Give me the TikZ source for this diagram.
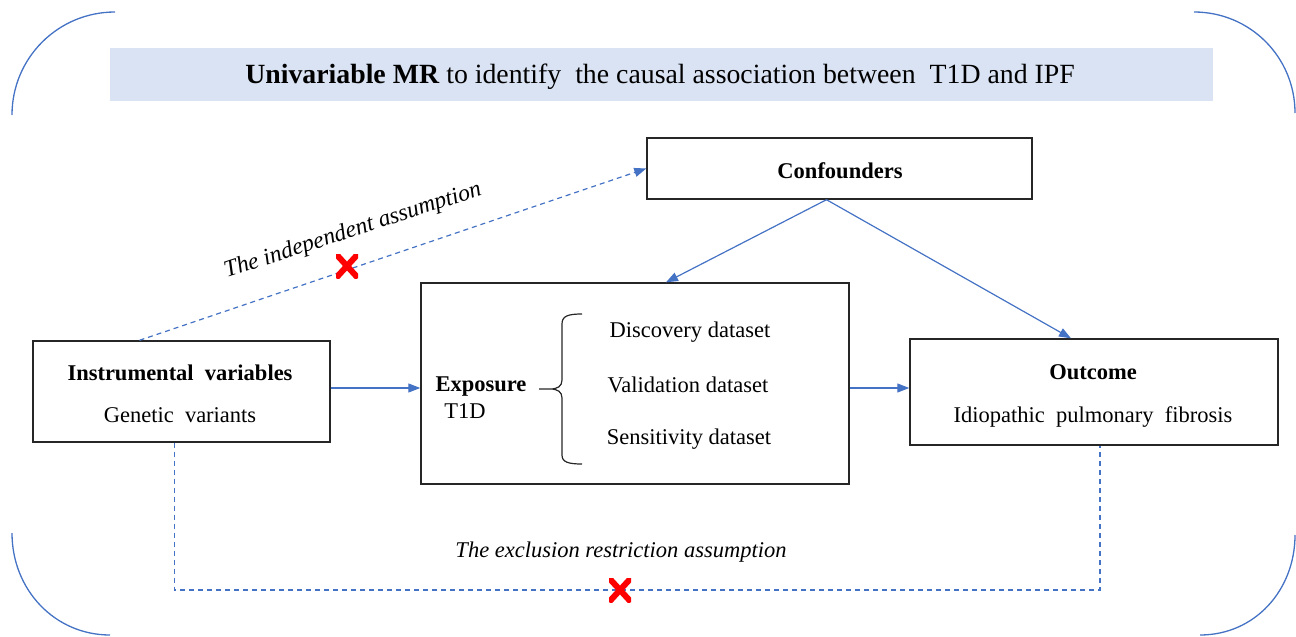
\documentclass[tikz,border=0pt]{standalone}
\usepackage{fontspec}
\setmainfont{Liberation Serif}
\usetikzlibrary{arrows.meta}
\definecolor{ob}{HTML}{4472C4}
\definecolor{tb}{HTML}{DAE3F3}
\definecolor{xr}{HTML}{FF0000}
\begin{document}
\begin{tikzpicture}[x=1pt,y=-1pt,
  box/.style={draw=black!85, line width=1.4pt, inner sep=0pt},
  arr/.style={draw=ob, line width=1.2pt, -{Triangle[length=12pt,width=9pt]}},
  dsh/.style={draw=ob, line width=1.2pt, dash pattern=on 5pt off 4pt},
  dsharr/.style={dsh, -{Triangle[length=12pt,width=9pt]}},
  frame/.style={draw=ob, line width=1.3pt},
  txt/.style={font=\fontsize{22.5}{27}\selectfont, inner sep=0pt, anchor=base},
  ttl/.style={font=\fontsize{27.8}{32}\selectfont, inner sep=0pt, anchor=base},
  itl/.style={font=\fontsize{22.5}{27}\selectfont\itshape, inner sep=0pt},
  xmark/.style={minimum width=22pt, minimum height=24pt, inner sep=0pt,
    path picture={\draw[xr, line width=6pt]
      (path picture bounding box.south west) -- (path picture bounding box.north east)
      (path picture bounding box.north west) -- (path picture bounding box.south east);}}
]
\useasboundingbox (0,0) rectangle (1296,637);

% outer frame corners
\draw[frame] (12,115) .. controls (12,58) and (58,12) .. (115,12);
\draw[frame] (1194,12) .. controls (1250,12) and (1295,57) .. (1295,113);
\draw[frame] (1295,535) .. controls (1295,590) and (1255,635) .. (1200,635);
\draw[frame] (12,533) .. controls (12,590) and (55,635) .. (110,635);

% title
\node[fill=tb, minimum width=1103pt, minimum height=53pt, inner sep=0pt] (tbox) at (661.5,74.5) {};
\node[ttl] (ttext) at (660,83) {\textbf{Univariable MR} to identify\ \ the causal association between\ \ T1D and IPF};

% boxes
\node[box, minimum width=297pt, minimum height=101pt] (iv) at (181.5,391.5) {};
\node[box, minimum width=385pt, minimum height=61pt] (conf) at (839.5,168.5) {};
\node[box, minimum width=428pt, minimum height=201pt] (exp) at (635,383.5) {};
\node[box, minimum width=368pt, minimum height=106pt] (out) at (1094,392) {};

% texts
\node[txt] (ivt1) at (180,380) {\textbf{Instrumental\ \ variables}};
\node[txt] (ivt2) at (180,422) {Genetic\ \ variants};
\node[txt] (conft) at (840,178) {\textbf{Confounders}};
\node[txt] (expt1) at (481,391) {\textbf{Exposure}};
\node[txt] (expt2) at (465,418) {T1D};
\node[txt] (ds1) at (690,337) {Discovery dataset};
\node[txt] (ds2) at (688,392) {Validation dataset};
\node[txt] (ds3) at (689,444) {Sensitivity dataset};
\node[txt] (outt1) at (1093,379) {\textbf{Outcome}};
\node[txt] (outt2) at (1093,422) {Idiopathic\ \ pulmonary\ \ fibrosis};

% brace
\draw[black!85, line width=1.2pt]
  (582,314) .. controls (568,314) and (562,316) .. (562,324) -- (562,380)
  .. controls (562,386) and (558,389) .. (550,389) -- (539,389)
  (550,389) .. controls (558,389) and (562,392) .. (562,398) -- (562,455)
  .. controls (562,462) and (568,464) .. (582,464);

% coordinates
\coordinate (ivE) at ([yshift=3.5pt]iv.east);
\coordinate (expE) at ([yshift=-4.5pt]exp.east);
\coordinate (confS) at ([xshift=-13pt]conf.south);
\coordinate (expN) at ([xshift=31pt]exp.north);
\coordinate (outN) at ([xshift=-23pt]out.north);
\coordinate (ivN) at ([xshift=-42pt]iv.north);
\coordinate (ivS) at ([xshift=-7pt]iv.south);
\coordinate (outS) at ([xshift=6pt]out.south);
\coordinate (xm) at (620,590);

% connectors
\draw[arr] (ivE) -- (ivE -| exp.west);
\draw[arr] (expE) -- (expE -| out.west);
\draw[arr] (confS) -- (expN);
\draw[arr] (confS) -- (outN);
\draw[dsharr] (ivN) -- (conf.west);
\draw[dsh] (ivS) |- (xm) -| (outS);

% labels
\node[itl, font=\fontsize{23.5}{28}\selectfont\itshape, rotate=18] (lab1) at (353,231) {The independent assumption};
\node[itl] (lab2) at (621,552) {The exclusion restriction assumption};

% crosses
\node[xmark] (x1) at (347,266) {};
\node[xmark] (x2) at (xm) {};
\end{tikzpicture}
\end{document}
